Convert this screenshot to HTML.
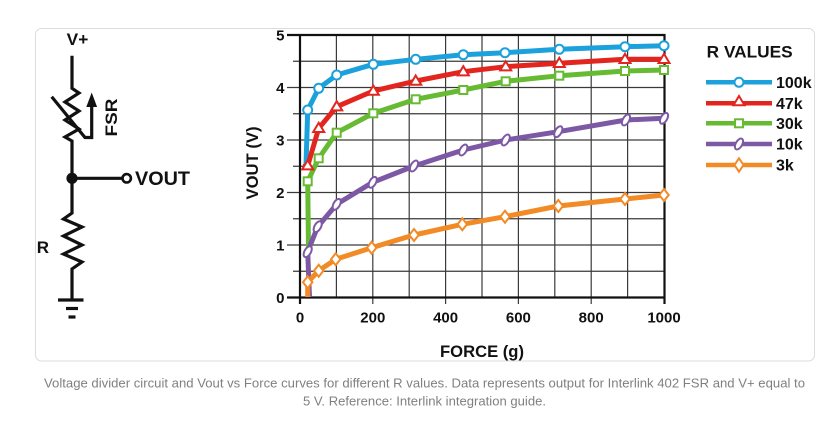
<!DOCTYPE html>
<html><head><meta charset="utf-8"><style>
html,body{margin:0;padding:0;background:#fff;}
svg{display:block;}
text{font-family:"Liberation Sans",Arial,sans-serif;}
</style></head><body>
<svg width="827" height="424" viewBox="0 0 827 424" xmlns="http://www.w3.org/2000/svg">
<rect x="35.5" y="28.5" width="779" height="332.5" rx="6" fill="#fff" stroke="#dcdcdc" stroke-width="1"/>

<!-- Circuit -->
<g stroke="#111" stroke-width="3.2" fill="none" stroke-linejoin="miter" stroke-linecap="butt">
<polyline points="72,55.7 72,88.3 79,93 65,102 79,111 65,120 79,129 65,137 72,141 72,213 63.5,219 82,227 63.5,236 82,245 63.5,254 82,262 72,269 72,300"/>
<line x1="72" y1="178.3" x2="122.5" y2="178.3"/>
<polyline points="51.7,96.7 85,137.5 91.7,137.5 91.7,105"/>
<line x1="58" y1="300" x2="83.5" y2="300"/>
<line x1="66" y1="308.5" x2="78" y2="308.5"/>
<line x1="68.5" y1="317" x2="75.5" y2="317"/>
</g>
<polygon points="91.7,92.5 86.3,107 97.1,107" fill="#111"/>
<circle cx="72" cy="178.3" r="5.6" fill="#111"/>
<circle cx="126.7" cy="178.3" r="4.2" fill="#fff" stroke="#111" stroke-width="2.6"/>
<text x="66.7" y="45" font-size="16.5" font-weight="bold" fill="#111" textLength="21.6" lengthAdjust="spacingAndGlyphs">V+</text>
<text x="135" y="185" font-size="19" font-weight="bold" fill="#111" textLength="55" lengthAdjust="spacingAndGlyphs">VOUT</text>
<text x="36.8" y="253" font-size="17" font-weight="bold" fill="#111">R</text>
<text transform="translate(117,136.5) rotate(-90)" x="0" y="0" font-size="17" font-weight="bold" fill="#111" textLength="38" lengthAdjust="spacingAndGlyphs">FSR</text>

<!-- Grid -->
<g stroke="#3a3a3a" stroke-width="1.2">
<line x1="336.4" y1="35" x2="336.4" y2="297.5"/>
<line x1="372.8" y1="35" x2="372.8" y2="304"/>
<line x1="409.2" y1="35" x2="409.2" y2="297.5"/>
<line x1="445.6" y1="35" x2="445.6" y2="304"/>
<line x1="482" y1="35" x2="482" y2="297.5"/>
<line x1="518.4" y1="35" x2="518.4" y2="304"/>
<line x1="554.8" y1="35" x2="554.8" y2="297.5"/>
<line x1="591.2" y1="35" x2="591.2" y2="304"/>
<line x1="627.6" y1="35" x2="627.6" y2="297.5"/>
<line x1="293" y1="271.25" x2="664" y2="271.25"/>
<line x1="287" y1="245" x2="664" y2="245"/>
<line x1="293" y1="218.75" x2="664" y2="218.75"/>
<line x1="287" y1="192.5" x2="664" y2="192.5"/>
<line x1="293" y1="166.25" x2="664" y2="166.25"/>
<line x1="287" y1="140" x2="664" y2="140"/>
<line x1="293" y1="113.75" x2="664" y2="113.75"/>
<line x1="287" y1="87.5" x2="664" y2="87.5"/>
<line x1="293" y1="61.25" x2="664" y2="61.25"/>
</g>
<g stroke="#111" stroke-width="2.2" fill="none">
<line x1="287" y1="35" x2="665.5" y2="35"/>
<line x1="287" y1="297.5" x2="665.5" y2="297.5"/>
<line x1="300" y1="34" x2="300" y2="304"/>
<line x1="664.5" y1="34" x2="664.5" y2="304"/>
</g>

<!-- Axis labels -->
<g font-size="15" font-weight="bold" fill="#111" text-anchor="end">
<text x="284.5" y="40.5">5</text>
<text x="284.5" y="93">4</text>
<text x="284.5" y="145.5">3</text>
<text x="284.5" y="198">2</text>
<text x="284.5" y="250.5">1</text>
<text x="284.5" y="303">0</text>
</g>
<g font-size="15" font-weight="bold" fill="#111" text-anchor="middle">
<text x="300" y="322.5">0</text>
<text x="372.8" y="322.5">200</text>
<text x="445.6" y="322.5">400</text>
<text x="518.4" y="322.5">600</text>
<text x="591.2" y="322.5">800</text>
<text x="664" y="322.5">1000</text>
</g>
<text transform="translate(258,163) rotate(-90)" x="0" y="0" text-anchor="middle" font-size="16.5" font-weight="bold" fill="#111" textLength="73" lengthAdjust="spacingAndGlyphs">VOUT (V)</text>
<text x="482" y="357" text-anchor="middle" font-size="16.5" font-weight="bold" fill="#111" textLength="84" lengthAdjust="spacingAndGlyphs">FORCE (g)</text>

<!-- Series lines -->
<g fill="none" stroke-width="5" stroke-linejoin="round" stroke-linecap="butt">
<polyline stroke="#1ba1db" points="306,166 307.7,110 318.7,88.3 336.7,75 373.3,64.3 415.7,59.3 463.3,54.7 505,52.7 559.3,49.3 625,46.7 664,45.7"/>
<polyline stroke="#e2261f" points="303.3,166.7 307.7,165.7 318.7,128.3 336.7,106.7 373.3,91 415.7,81 463.3,71.7 505.7,66.7 559.3,63.3 625,59.3 664,59.3"/>
<polyline stroke="#66bb33" points="308.5,248 307.7,181.3 318.7,158.3 336.7,132.7 373.3,113.3 415.7,99.3 463.3,90 505.7,81.3 559.3,75.7 625,71 664,70"/>
<polyline stroke="#7d58a4" points="309.5,297 307.7,251.7 317.7,226.7 336.7,204.3 372.7,182.3 414,166 463.3,150 505.7,140 558.3,131.7 626,120 664,118.3"/>
<polyline stroke="#f28a25" points="307.7,297 307.7,282.3 318.7,270.7 335.7,259.3 371.7,247.7 414,235 462.3,224.3 505,216.7 558.3,206 625,199 664,195"/>
</g>

<!-- Markers -->
<g fill="#fff" stroke="#1ba1db" stroke-width="2">
<circle cx="307.7" cy="110" r="4.5"/><circle cx="318.7" cy="88.3" r="4.5"/><circle cx="336.7" cy="75" r="4.5"/><circle cx="373.3" cy="64.3" r="4.5"/><circle cx="415.7" cy="59.3" r="4.5"/><circle cx="463.3" cy="54.7" r="4.5"/><circle cx="505" cy="52.7" r="4.5"/><circle cx="559.3" cy="49.3" r="4.5"/><circle cx="625" cy="46.7" r="4.5"/><circle cx="664" cy="45.7" r="4.5"/>
</g>
<g fill="#fff" stroke="#e2261f" stroke-width="2">
<polygon points="307.7,160.2 313.2,169.4 302.2,169.4"/>
<polygon points="318.7,122.8 324.2,132 313.2,132"/>
<polygon points="336.7,101.2 342.2,110.4 331.2,110.4"/>
<polygon points="373.3,85.5 378.8,94.7 367.8,94.7"/>
<polygon points="415.7,75.5 421.2,84.7 410.2,84.7"/>
<polygon points="463.3,66.2 468.8,75.4 457.8,75.4"/>
<polygon points="505.7,61.2 511.2,70.4 500.2,70.4"/>
<polygon points="559.3,57.8 564.8,67 553.8,67"/>
<polygon points="625,53.8 630.5,63 619.5,63"/>
<polygon points="664,53.8 669.5,63 658.5,63"/>
</g>
<g fill="#fff" stroke="#66bb33" stroke-width="2">
<rect x="303.7" y="177.3" width="8" height="8"/>
<rect x="314.7" y="154.3" width="8" height="8"/>
<rect x="332.7" y="128.7" width="8" height="8"/>
<rect x="369.3" y="109.3" width="8" height="8"/>
<rect x="411.7" y="95.3" width="8" height="8"/>
<rect x="459.3" y="86" width="8" height="8"/>
<rect x="501.7" y="77.3" width="8" height="8"/>
<rect x="555.3" y="71.7" width="8" height="8"/>
<rect x="621" y="67" width="8" height="8"/>
<rect x="660" y="66" width="8" height="8"/>
</g>
<g fill="#fff" stroke="#7d58a4" stroke-width="2">
<ellipse cx="307.7" cy="251.7" rx="3.2" ry="6" transform="rotate(30 307.7 251.7)"/>
<ellipse cx="317.7" cy="226.7" rx="3.2" ry="6" transform="rotate(30 317.7 226.7)"/>
<ellipse cx="336.7" cy="204.3" rx="3.2" ry="6" transform="rotate(30 336.7 204.3)"/>
<ellipse cx="372.7" cy="182.3" rx="3.2" ry="6" transform="rotate(30 372.7 182.3)"/>
<ellipse cx="414" cy="166" rx="3.2" ry="6" transform="rotate(30 414 166)"/>
<ellipse cx="463.3" cy="150" rx="3.2" ry="6" transform="rotate(30 463.3 150)"/>
<ellipse cx="505.7" cy="140" rx="3.2" ry="6" transform="rotate(30 505.7 140)"/>
<ellipse cx="558.3" cy="131.7" rx="3.2" ry="6" transform="rotate(30 558.3 131.7)"/>
<ellipse cx="626" cy="120" rx="3.2" ry="6" transform="rotate(30 626 120)"/>
<ellipse cx="664" cy="118.3" rx="3.2" ry="6" transform="rotate(30 664 118.3)"/>
</g>
<g fill="#fff" stroke="#f28a25" stroke-width="2">
<polygon points="307.7,276.3 312.4,282.3 307.7,288.3 303,282.3"/>
<polygon points="318.7,264.7 323.4,270.7 318.7,276.7 314,270.7"/>
<polygon points="335.7,253.3 340.4,259.3 335.7,265.3 331,259.3"/>
<polygon points="371.7,241.7 376.4,247.7 371.7,253.7 367,247.7"/>
<polygon points="414,229 418.7,235 414,241 409.3,235"/>
<polygon points="462.3,218.3 467,224.3 462.3,230.3 457.6,224.3"/>
<polygon points="505,210.7 509.7,216.7 505,222.7 500.3,216.7"/>
<polygon points="558.3,200 563,206 558.3,212 553.6,206"/>
<polygon points="625,193 629.7,199 625,205 620.3,199"/>
<polygon points="664,189 668.7,195 664,201 659.3,195"/>
</g>

<!-- Legend -->
<text x="706.7" y="57.5" font-size="17" font-weight="bold" fill="#111" textLength="86" lengthAdjust="spacingAndGlyphs">R VALUES</text>
<g stroke-width="4.5">
<line x1="706" y1="82.3" x2="772" y2="82.3" stroke="#1ba1db"/>
<line x1="706" y1="103.3" x2="772" y2="103.3" stroke="#e2261f"/>
<line x1="706" y1="123.3" x2="772" y2="123.3" stroke="#66bb33"/>
<line x1="706" y1="144" x2="772" y2="144" stroke="#7d58a4"/>
<line x1="706" y1="165" x2="772" y2="165" stroke="#f28a25"/>
</g>
<circle cx="739" cy="82.3" r="4.5" fill="#fff" stroke="#1ba1db" stroke-width="2"/>
<polygon points="739,96 744.5,105.2 733.5,105.2" fill="#fff" stroke="#e2261f" stroke-width="2"/>
<rect x="735" y="119.3" width="8" height="8" fill="#fff" stroke="#66bb33" stroke-width="2"/>
<ellipse cx="739" cy="144" rx="3.2" ry="6" transform="rotate(30 739 144)" fill="#fff" stroke="#7d58a4" stroke-width="2"/>
<polygon points="739,158.3 743.5,165 739,171.7 734.5,165" fill="#fff" stroke="#f28a25" stroke-width="2"/>
<g font-size="16" font-weight="bold" fill="#111">
<text x="776" y="88">100k</text>
<text x="776" y="109">47k</text>
<text x="776" y="129">30k</text>
<text x="776" y="149.7">10k</text>
<text x="776" y="170.7">3k</text>
</g>

<!-- Caption -->
<text x="44" y="387.5" font-size="12.5" fill="#808080" textLength="761" lengthAdjust="spacingAndGlyphs">Voltage divider circuit and Vout vs Force curves for different R values. Data represents output for Interlink 402 FSR and V+ equal to</text>
<text x="303" y="405.5" font-size="12.5" fill="#808080" textLength="243" lengthAdjust="spacingAndGlyphs">5 V. Reference: Interlink integration guide.</text>
</svg>
</body></html>
